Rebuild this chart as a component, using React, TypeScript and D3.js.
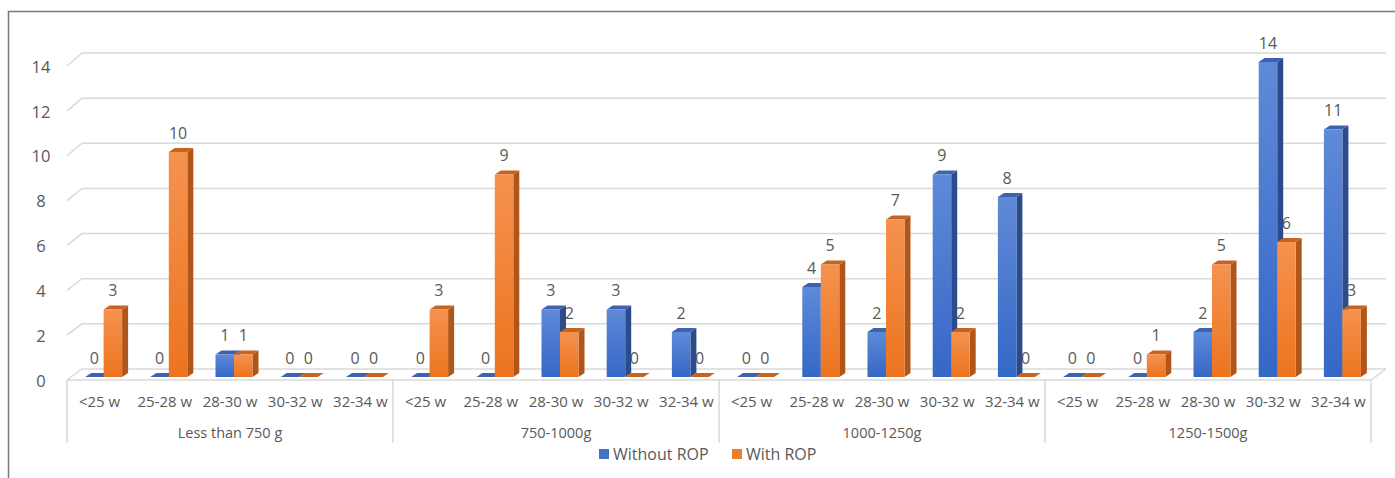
import React from "react";
import * as d3 from "d3";

// Weight groups and gestational-age bands
const groups = ["Less than 750 g", "750-1000g", "1000-1250g", "1250-1500g"];
const weeks = ["<25 w", "25-28 w", "28-30 w", "30-32 w", "32-34 w"];

// Counts per (group, week band), in group order
const withoutROP = [0, 0, 1, 0, 0, 0, 0, 3, 3, 2, 0, 4, 2, 9, 8, 0, 0, 2, 14, 11];
const withROP = [3, 10, 1, 0, 0, 3, 9, 2, 0, 0, 0, 5, 7, 2, 0, 0, 1, 5, 6, 3];

const yTicks = [0, 2, 4, 6, 8, 10, 12, 14];

const W = 1395;
const H = 478;
const FONT = "'Open Sans', 'Noto Sans', sans-serif";
const TEXT = "#595959";

// 3D offsets: wall depth and bar depth
const WALL_DX = 15;
const BAR_DX = 6;
const BAR_DY = 4;
const BAR_SHIFT = 4;

const BLUE = { top: "#3d63b0", side: "#2c4b8a", g0: "#5f8ad8", g1: "#3567c6" };
const ORANGE = { top: "#c8621f", side: "#b0561a", g0: "#f5924f", g1: "#ec741f" };

export default function App() {
  const n = withoutROP.length;
  const x = d3.scaleBand<number>().domain(d3.range(n)).range([67, 1371]).padding(0);
  const yFront = d3.scaleLinear().domain([0, 14]).range([380, 66]);
  const yBack = d3.scaleLinear().domain([0, 14]).range([369, 53]);
  const yBar = d3.scaleLinear().domain([0, 14]).range([377, 62]);
  const bw = 18.5;

  const bar = (i: number, v: number, series: 0 | 1) => {
    const c = series === 0 ? BLUE : ORANGE;
    const cx = (x(i) as number) + x.bandwidth() / 2 + BAR_SHIFT;
    const x0 = series === 0 ? cx - bw : cx;
    const x1 = x0 + bw;
    const yt = yBar(v);
    const yb = yBar(0);
    const top = `M${x0},${yt}L${x0 + BAR_DX},${yt - BAR_DY}L${x1 + BAR_DX},${yt - BAR_DY}L${x1},${yt}Z`;
    const side = `M${x1},${yt}L${x1 + BAR_DX},${yt - BAR_DY}L${x1 + BAR_DX},${yb - BAR_DY}L${x1},${yb}Z`;
    return (
      <g key={`b${series}-${i}`}>
        <path d={side} fill={c.side} />
        <path d={top} fill={c.top} />
        {v > 0 && (
          <rect x={x0} y={yt} width={bw} height={yb - yt} fill={`url(#grad${series})`} />
        )}
      </g>
    );
  };

  const label = (i: number, v: number, series: 0 | 1) => {
    const cx = (x(i) as number) + x.bandwidth() / 2 + BAR_SHIFT;
    const lx = series === 0 ? cx - bw / 2 : cx + bw / 2;
    return (
      <text
        key={`l${series}-${i}`}
        x={lx}
        y={yBar(v) - 19}
        dy="0.35em"
        textAnchor="middle"
        fontSize={16}
        fill={TEXT}
      >
        {v}
      </text>
    );
  };

  const groupEdges = d3.range(groups.length + 1).map((g) => 67 + g * 5 * x.bandwidth());
  const right = 1371;

  return (
    <svg width={W} height={H} style={{ position: "absolute", left: 0, top: 0, fontFamily: FONT }}>
      <defs>
        <linearGradient id="grad0" x1="0" y1="0" x2="0" y2="1">
          <stop offset="0" stopColor={BLUE.g0} />
          <stop offset="1" stopColor={BLUE.g1} />
        </linearGradient>
        <linearGradient id="grad1" x1="0" y1="0" x2="0" y2="1">
          <stop offset="0" stopColor={ORANGE.g0} />
          <stop offset="1" stopColor={ORANGE.g1} />
        </linearGradient>
      </defs>
      <rect width={W} height={H} fill="#fff" />
      {/* chart frame */}
      <path d={`M8.5,${H}V11.5H${W}`} fill="none" stroke="#7a7a7a" strokeWidth={1.5} />

      {/* gridlines with wall-depth diagonal */}
      {yTicks.map((t) => (
        <g key={`g${t}`}>
          <path
            d={`M67,${yFront(t)}L${67 + WALL_DX},${yBack(t)}H${right + WALL_DX}`}
            fill="none"
            stroke="#d9d9d9"
            strokeWidth={1.5}
          />
          <text x={41} y={yFront(t) + 1} dy="0.35em" textAnchor="middle" fontSize={16.5} fill={TEXT}>
            {t}
          </text>
        </g>
      ))}
      {/* floor edges */}
      <path
        d={`M67,${yFront(0)}H${right}L${right + WALL_DX},${yBack(0)}`}
        fill="none"
        stroke="#d9d9d9"
        strokeWidth={1.5}
      />

      {/* category axis */}
      {groupEdges.map((gx, k) => (
        <line key={`e${k}`} x1={gx} x2={gx} y1={yFront(0)} y2={443} stroke="#d9d9d9" strokeWidth={1.5} />
      ))}
      {d3.range(n).map((i) => (
        <text
          key={`c${i}`}
          x={(x(i) as number) + x.bandwidth() / 2}
          y={402}
          dy="0.35em"
          textAnchor="middle"
          fontSize={15}
          fill={TEXT}
        >
          {weeks[i % weeks.length]}
        </text>
      ))}
      {groups.map((g, k) => (
        <text
          key={`gr${k}`}
          x={(groupEdges[k] + groupEdges[k + 1]) / 2}
          y={433}
          dy="0.35em"
          textAnchor="middle"
          fontSize={14.5}
          fill={TEXT}
        >
          {g}
        </text>
      ))}

      {/* orange labels sit behind the bars */}
      {withROP.map((v, i) => label(i, v, 1))}
      {d3.range(n).map((i) => (
        <g key={`pair${i}`}>
          {bar(i, withoutROP[i], 0)}
          {bar(i, withROP[i], 1)}
        </g>
      ))}
      {withoutROP.map((v, i) => label(i, v, 0))}

      {/* legend */}
      <rect x={599} y={449} width={10} height={10} fill="#4472c4" />
      <text x={613} y={454} dy="0.35em" fontSize={16} fill={TEXT}>
        Without ROP
      </text>
      <rect x={732} y={449} width={10} height={10} fill="#ed7d31" />
      <text x={746} y={454} dy="0.35em" fontSize={16} fill={TEXT}>
        With ROP
      </text>
    </svg>
  );
}
